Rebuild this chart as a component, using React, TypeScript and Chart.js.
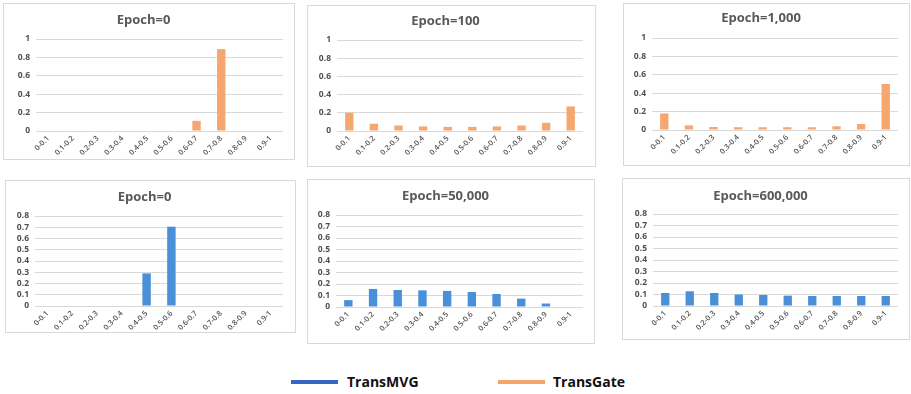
import React, { useEffect, useRef } from "react";
import { Chart, registerables } from "chart.js";

Chart.register(...registerables);

const bins = ["0-0.1", "0.1-0.2", "0.2-0.3", "0.3-0.4", "0.4-0.5", "0.5-0.6", "0.6-0.7", "0.7-0.8", "0.8-0.9", "0.9-1"];

const gateEpoch0 = [0, 0, 0, 0, 0, 0, 0.11, 0.89, 0, 0];
const gateEpoch100 = [0.2, 0.08, 0.06, 0.05, 0.045, 0.045, 0.05, 0.06, 0.09, 0.27];
const gateEpoch1000 = [0.18, 0.05, 0.033, 0.03, 0.03, 0.03, 0.03, 0.04, 0.065, 0.5];
const mvgEpoch0 = [0, 0, 0, 0, 0.29, 0.705, 0, 0, 0, 0];
const mvgEpoch50000 = [0.06, 0.157, 0.148, 0.145, 0.14, 0.13, 0.113, 0.073, 0.03, 0];
const mvgEpoch600000 = [0.113, 0.128, 0.113, 0.1, 0.096, 0.09, 0.087, 0.087, 0.087, 0.087];

const titles = ["Epoch=0", "Epoch=100", "Epoch=1,000", "Epoch=0", "Epoch=50,000", "Epoch=600,000"];

const ORANGE = "#F5A76F";
const ORANGE_EDGE = "#EF9C62";
const BLUE = "#4A90D9";
const BLUE_EDGE = "#3B80CF";
const LEGEND_BLUE = "#3566C4";
const LEGEND_ORANGE = "#F5A46C";

type PanelSpec = {
  x: number; y: number; w: number; h: number;
  titleY: number; plotTop: number; plotBottom: number; plotLeft: number; plotRight: number;
  data: number[]; title: string; max: number; step: number; color: string; edge: string;
};

const panels: PanelSpec[] = [
  { x: 3, y: 3, w: 292, h: 157, titleY: 17, plotTop: 36, plotBottom: 128, plotLeft: 33, plotRight: 280, data: gateEpoch0, title: titles[0], max: 1, step: 0.2, color: ORANGE, edge: ORANGE_EDGE },
  { x: 307, y: 5, w: 289, h: 162, titleY: 16, plotTop: 35, plotBottom: 126, plotLeft: 30, plotRight: 276, data: gateEpoch100, title: titles[1], max: 1, step: 0.2, color: ORANGE, edge: ORANGE_EDGE },
  { x: 623, y: 3, w: 287, h: 163, titleY: 15, plotTop: 35, plotBottom: 127, plotLeft: 29, plotRight: 275, data: gateEpoch1000, title: titles[2], max: 1, step: 0.2, color: ORANGE, edge: ORANGE_EDGE },
  { x: 5, y: 180, w: 291, h: 153, titleY: 17, plotTop: 36, plotBottom: 126, plotLeft: 30, plotRight: 278, data: mvgEpoch0, title: titles[3], max: 0.8, step: 0.1, color: BLUE, edge: BLUE_EDGE },
  { x: 307, y: 179, w: 288, h: 165, titleY: 17, plotTop: 36, plotBottom: 128, plotLeft: 29, plotRight: 276, data: mvgEpoch50000, title: titles[4], max: 0.8, step: 0.1, color: BLUE, edge: BLUE_EDGE },
  { x: 622, y: 178, w: 288, h: 162, titleY: 18, plotTop: 36, plotBottom: 128, plotLeft: 31, plotRight: 276, data: mvgEpoch600000, title: titles[5], max: 0.8, step: 0.1, color: BLUE, edge: BLUE_EDGE },
];

const FONT = "'Open Sans', 'Noto Sans', sans-serif";

function Panel({ p }: { p: PanelSpec }) {
  const ref = useRef<HTMLCanvasElement | null>(null);
  useEffect(() => {
    if (!ref.current) return;
    const iw = p.w - 2;
    const ih = p.h - 2;
    const titleSize = 13;
    const lineH = titleSize * 1.2;
    const top = p.plotTop - 1;
    const titleTopPad = Math.max(0, p.titleY - 1 - lineH / 2);
    const titleBottomPad = Math.max(0, top - titleTopPad - lineH);
    const yWidth = p.plotLeft - 1;
    const xHeight = ih - (p.plotBottom - 1);
    const chart = new Chart(ref.current, {
      type: "bar",
      data: {
        labels: bins,
        datasets: [
          {
            data: p.data,
            backgroundColor: p.color,
            borderColor: p.edge,
            borderWidth: 0,
            categoryPercentage: 1,
            barPercentage: 0.34,
          },
        ],
      },
      options: {
        responsive: false,
        animation: false,
        devicePixelRatio: 1,
        layout: { padding: { left: 0, right: iw - (p.plotRight - 1), top: 0, bottom: 0 } },
        plugins: {
          legend: { display: false },
          tooltip: { enabled: false },
          title: {
            display: true,
            text: p.title,
            color: "#595959",
            font: { family: FONT, size: titleSize, weight: "bold" },
            padding: { top: titleTopPad, bottom: titleBottomPad },
          },
        },
        scales: {
          x: {
            grid: { display: false, drawTicks: false },
            border: { display: false },
            ticks: {
              color: "#505050",
              font: { family: FONT, size: 7.5, weight: "600" },
              maxRotation: 45,
              minRotation: 45,
              autoSkip: false,
              padding: 3,
            },
            afterFit: (scale: any) => {
              scale.height = xHeight;
            },
          },
          y: {
            min: 0,
            max: p.max,
            grid: { color: "#D9D9D9", lineWidth: 1, drawTicks: false },
            border: { display: false },
            ticks: {
              stepSize: p.step,
              autoSkip: false,
              color: "#505050",
              font: { family: FONT, size: 8.5, weight: "bold" },
              padding: 6,
              callback: (v: any) => String(Math.round(Number(v) * 10) / 10),
            },
            afterFit: (scale: any) => {
              scale.width = yWidth;
            },
          },
        },
      },
    });
    return () => chart.destroy();
  }, [p]);
  return (
    <div
      style={{
        position: "absolute",
        left: p.x,
        top: p.y,
        width: p.w,
        height: p.h,
        boxSizing: "border-box",
        border: "1px solid #D9D9D9",
        background: "#fff",
      }}
    >
      <canvas ref={ref} width={p.w - 2} height={p.h - 2} style={{ display: "block" }} />
    </div>
  );
}

export default function App() {
  return (
    <div style={{ position: "fixed", left: 0, top: 0, width: 911, height: 394, background: "#fff", overflow: "hidden" }}>
      {panels.map((p, i) => (
        <Panel key={i} p={p} />
      ))}
      <div style={{ position: "absolute", left: 291, top: 380, width: 47, height: 4, background: LEGEND_BLUE }} />
      <div style={{ position: "absolute", left: 347, top: 370, fontFamily: FONT, fontWeight: "bold", fontSize: 14, lineHeight: "24px", color: "#111" }}>TransMVG</div>
      <div style={{ position: "absolute", left: 498, top: 380, width: 47, height: 4, background: LEGEND_ORANGE }} />
      <div style={{ position: "absolute", left: 553, top: 370, fontFamily: FONT, fontWeight: "bold", fontSize: 14, lineHeight: "24px", color: "#111" }}>TransGate</div>
    </div>
  );
}
